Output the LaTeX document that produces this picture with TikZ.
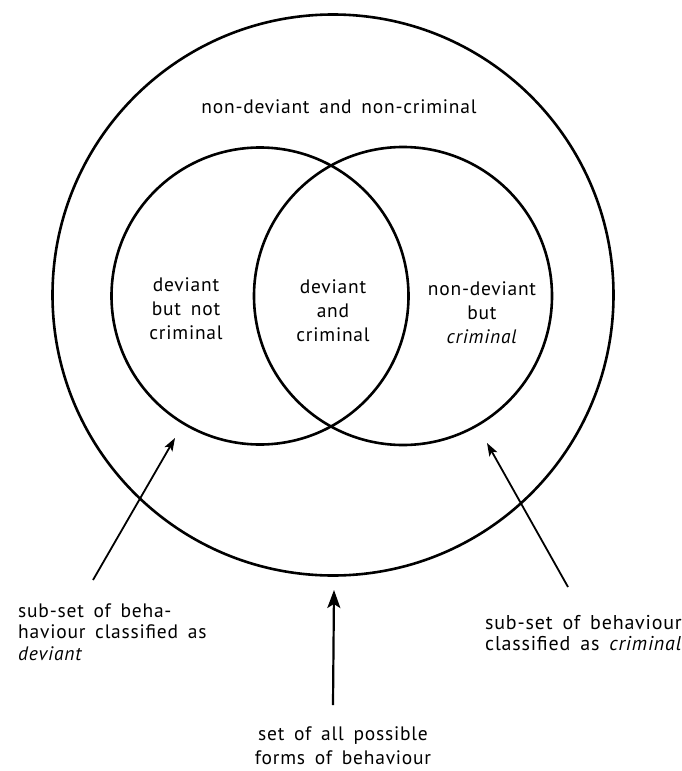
\documentclass[tikz,border=0pt]{standalone}
\usepackage{fontspec}
\setmainfont[LetterSpace=4]{PT Sans}
\usetikzlibrary{arrows.meta}
\newcommand\mylblfont{\fontsize{19.5}{24}\selectfont\spaceskip=0.5em plus 0.1em minus 0.05em\relax}
\newcommand\mysidefont{\fontsize{19.5}{21.5}\selectfont\spaceskip=0.5em plus 0.1em minus 0.05em\relax}
\newcommand\myrightfont{\fontsize{20}{21.5}\selectfont\spaceskip=0.5em plus 0.1em minus 0.05em\relax}
\begin{document}
\begin{tikzpicture}[x=1pt,y=-1pt,
  setcircle/.style={circle,draw,line width=2.6pt,inner sep=0pt},
  lbl/.style={font=\mylblfont, inner sep=0pt, align=center},
  lbll/.style={inner sep=0pt, align=left, anchor=west},
  ptr/.style={line width=1.8pt, -{Stealth[length=13pt,width=9pt,inset=3pt]}},
  bigptr/.style={line width=2.2pt, -{Stealth[length=18pt,width=13pt,inset=4pt]}}]
\useasboundingbox (0,0) rectangle (681,771);
\node[setcircle,minimum size=561pt] (all) at (333,295) {};
\node[setcircle,minimum size=297pt] (dev) at (260,296) {};
\node[setcircle,minimum size=298pt] (crim) at (403,296) {};
\node[lbl] (nn) at (339,107) {non-deviant and non-criminal};
\node[lbl] (dn) at (186,309) {deviant\\but not\\criminal};
\node[lbl] (dc) at (333,311) {deviant\\and\\criminal};
\node[lbl] (nc) at (482,313) {non-deviant\\but\\\textit{criminal}};
\node[lbll,font=\mysidefont] (devlbl) at (18,632) {sub-set of beha-\\haviour classified as\\\textit{deviant}};
\node[lbll,font=\myrightfont] (crimlbl) at (485,633) {sub-set of behaviour\\classified as \textit{criminal}};
\node[lbl] (alllbl) at (343,746) {set of all possible\\forms of behaviour};
\coordinate (devtail) at (93,580);
\coordinate (devtip) at (175,438);
\coordinate (crimtail) at (568,587);
\coordinate (crimtip) at (487,443);
\coordinate (alltail) at (333,705);
\coordinate (alltip) at (334,590);
\draw[ptr] (devtail) -- (devtip);
\draw[ptr] (crimtail) -- (crimtip);
\draw[bigptr] (alltail) -- (alltip);
\end{tikzpicture}
\end{document}
